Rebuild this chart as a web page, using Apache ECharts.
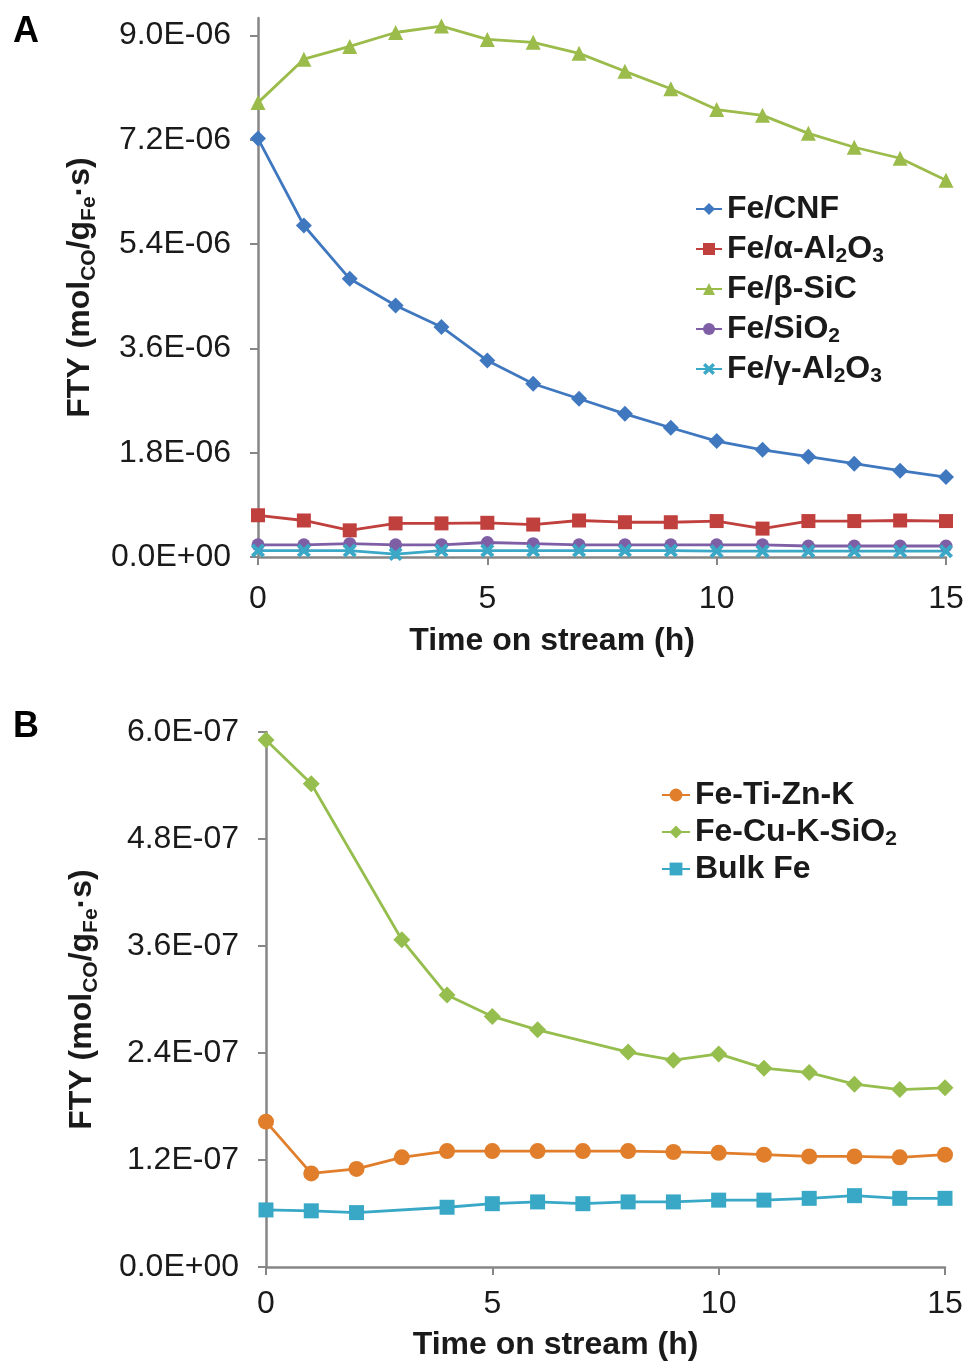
<!DOCTYPE html>
<html>
<head>
<meta charset="utf-8">
<script src="https://cdn.jsdelivr.net/npm/echarts@6/dist/echarts.min.js"></script>
<style>
  html, body { margin: 0; padding: 0; background: #fff; }
  #main { width: 968px; height: 1365px; }
</style>
</head>
<body>
<div id="main"></div>
<script>
/*---------------- data: panel A ----------------*/
var hoursA = [0, 1, 2, 3, 4, 5, 6, 7, 8, 9, 10, 11, 12, 13, 14, 15];
var feCNF = [7.22, 5.72, 4.80, 4.34, 3.97, 3.39, 2.99, 2.73, 2.47, 2.23, 2.00, 1.85, 1.73, 1.61, 1.49, 1.38];
var feAlphaAl2O3 = [0.72, 0.63, 0.46, 0.58, 0.58, 0.59, 0.56, 0.63, 0.60, 0.60, 0.62, 0.49, 0.62, 0.62, 0.63, 0.62];
var feSiC = [7.84, 8.59, 8.81, 9.05, 9.16, 8.93, 8.88, 8.69, 8.38, 8.08, 7.72, 7.62, 7.31, 7.07, 6.88, 6.50];
var feSiO2 = [0.21, 0.21, 0.23, 0.21, 0.21, 0.25, 0.23, 0.21, 0.21, 0.21, 0.21, 0.21, 0.19, 0.19, 0.19, 0.19];
var feGammaAl2O3 = [0.11, 0.11, 0.11, 0.05, 0.11, 0.11, 0.11, 0.11, 0.11, 0.11, 0.10, 0.10, 0.10, 0.10, 0.10, 0.10];
var scaleA = 1e-6;
var yTicksA = [0, 1.8e-6, 3.6e-6, 5.4e-6, 7.2e-6, 9.0e-6];

/*---------------- data: panel B ----------------*/
var hoursB = [0, 1, 2, 3, 4, 5, 6, 7, 8, 9, 10, 11, 12, 13, 14, 15];
var feTiZnK = [1.63, 1.05, 1.10, 1.23, 1.30, 1.30, 1.30, 1.30, 1.30, 1.29, 1.28, 1.26, 1.24, 1.24, 1.23, 1.26];
var feCuKSiO2 = [5.91, 5.42, null, 3.67, 3.05, 2.81, 2.66, null, 2.41, 2.32, 2.39, 2.23, 2.18, 2.05, 1.99, 2.01];
var bulkFe = [0.64, 0.63, 0.61, null, 0.67, 0.71, 0.73, 0.71, 0.73, 0.73, 0.75, 0.75, 0.77, 0.80, 0.77, 0.77];
var scaleB = 1e-7;
var yTicksB = [0, 1.2e-7, 2.4e-7, 3.6e-7, 4.8e-7, 6.0e-7];
var xTicks = [0, 5, 10, 15];

var FONT = '"Liberation Sans", Arial, sans-serif';
var TXT = '#1a1a1a';
var AXIS = '#868686';

function pairs(xs, ys, k) {
    var out = [];
    for (var i = 0; i < xs.length; i++) {
        if (ys[i] != null) out.push([xs[i], ys[i] * k]);
    }
    return out;
}

function sci(v) {
    // 9.0E-06 style like Excel
    var s = Number(v).toExponential(1).split('e');
    var e = parseInt(s[1], 10);
    var sign = e < 0 ? '-' : '+';
    e = Math.abs(e);
    return s[0] + 'E' + sign + (e < 10 ? '0' + e : e);
}

var subRich = {
    s: { fontSize: 21, fontWeight: 'bold', fontFamily: FONT, color: TXT, verticalAlign: 'bottom', padding: [18, 0, 0, 0] }
};

var crossPath = 'path://M2,0 L5,3 L8,0 L10,2 L7,5 L10,8 L8,10 L5,7 L2,10 L0,8 L3,5 L0,2 Z';

function xAxisCfg(idx, labelMargin, nameGap) {
    return {
        gridIndex: idx, type: 'value', min: 0, max: 15, interval: 5,
        name: 'Time on stream (h)', nameLocation: 'middle', nameGap: nameGap,
        nameTextStyle: { fontFamily: FONT, fontSize: 32, fontWeight: 'bold', color: TXT, padding: [0, 100, 0, 0] },
        axisLine: { lineStyle: { color: AXIS, width: 2.5 } },
        axisTick: { show: true, length: 8, lineStyle: { color: AXIS, width: 2 }, customValues: xTicks },
        axisLabel: { fontFamily: FONT, fontSize: 32, color: TXT, margin: labelMargin, customValues: xTicks },
        splitLine: { show: false }
    };
}

function yAxisCfg(idx, max, ticks, gap) {
    return {
        gridIndex: idx, type: 'value', min: 0, max: max,
        name: 'FTY (mol{s|CO}/g{s|Fe}·s)', nameLocation: 'middle', nameGap: gap, nameRotate: 90,
        nameTextStyle: { fontFamily: FONT, fontSize: 32, fontWeight: 'bold', color: TXT, rich: subRich },
        axisLine: { show: true, lineStyle: { color: AXIS, width: 2.5 } },
        axisTick: { show: true, length: 8, lineStyle: { color: AXIS, width: 2 }, customValues: ticks },
        axisLabel: { fontFamily: FONT, fontSize: 32, color: TXT, margin: 27, customValues: ticks, formatter: sci },
        splitLine: { show: false }
    };
}

function lineSeries(name, xi, yi, data, color, symbol, size) {
    return {
        name: name, type: 'line', xAxisIndex: xi, yAxisIndex: yi, data: data,
        symbol: symbol, symbolSize: size, showSymbol: true, animation: false,
        lineStyle: { color: color, width: 2.8 },
        itemStyle: { color: color },
        z: 3
    };
}

var chart = echarts.init(document.getElementById('main'), null, { renderer: 'canvas' });

var legendText = { fontFamily: FONT, fontSize: 32, fontWeight: 'bold', color: TXT, lineHeight: 36, rich: subRich };

chart.setOption({
    backgroundColor: '#fff',
    animation: false,
    grid: [
        { left: 258, top: 18, width: 688, height: 539 },
        { left: 266, top: 732, width: 679, height: 535 }
    ],
    graphic: [
        { type: 'text', left: 13, top: 14, style: { text: 'A', fontFamily: FONT, fontSize: 36, fontWeight: 'bold', fill: '#000' } },
        { type: 'text', left: 13, top: 709, style: { text: 'B', fontFamily: FONT, fontSize: 36, fontWeight: 'bold', fill: '#000' } }
    ],
    legend: [
        {
            orient: 'vertical', left: 690, top: 186, itemGap: 4, itemWidth: 26, itemHeight: 15,
            data: ['Fe/CNF', 'Fe/α-Al2O3', 'Fe/β-SiC', 'Fe/SiO2', 'Fe/γ-Al2O3'],
            formatter: function (n) {
                return n.replace(/Al2O3/, 'Al{s|2}O{s|3}').replace(/SiO2/, 'SiO{s|2}');
            },
            textStyle: legendText
        },
        {
            orient: 'vertical', left: 656, top: 772, itemGap: 1, itemWidth: 28, itemHeight: 16,
            data: ['Fe-Ti-Zn-K', 'Fe-Cu-K-SiO2', 'Bulk Fe'],
            formatter: function (n) {
                return n.replace(/SiO2/, 'SiO{s|2}');
            },
            textStyle: legendText
        }
    ],
    xAxis: [xAxisCfg(0, 26, 68), xAxisCfg(1, 21, 62)],
    yAxis: [yAxisCfg(0, 9.3e-6, yTicksA, 156), yAxisCfg(1, 6.0e-7, yTicksB, 164)],
    series: [
        lineSeries('Fe/CNF', 0, 0, pairs(hoursA, feCNF, scaleA), '#4078C0', 'diamond', 16),
        lineSeries('Fe/α-Al2O3', 0, 0, pairs(hoursA, feAlphaAl2O3, scaleA), '#C0403E', 'rect', 14),
        lineSeries('Fe/β-SiC', 0, 0, pairs(hoursA, feSiC, scaleA), '#9BBB4A', 'triangle', 15),
        lineSeries('Fe/SiO2', 0, 0, pairs(hoursA, feSiO2, scaleA), '#7E5FA6', 'circle', 13),
        lineSeries('Fe/γ-Al2O3', 0, 0, pairs(hoursA, feGammaAl2O3, scaleA), '#3AA8C6', crossPath, 14),
        lineSeries('Fe-Ti-Zn-K', 1, 1, pairs(hoursB, feTiZnK, scaleB), '#E07E2C', 'circle', 16),
        lineSeries('Fe-Cu-K-SiO2', 1, 1, pairs(hoursB, feCuKSiO2, scaleB), '#96BE4E', 'diamond', 17),
        lineSeries('Bulk Fe', 1, 1, pairs(hoursB, bulkFe, scaleB), '#38A8C6', 'rect', 15)
    ]
});
</script>
</body>
</html>
